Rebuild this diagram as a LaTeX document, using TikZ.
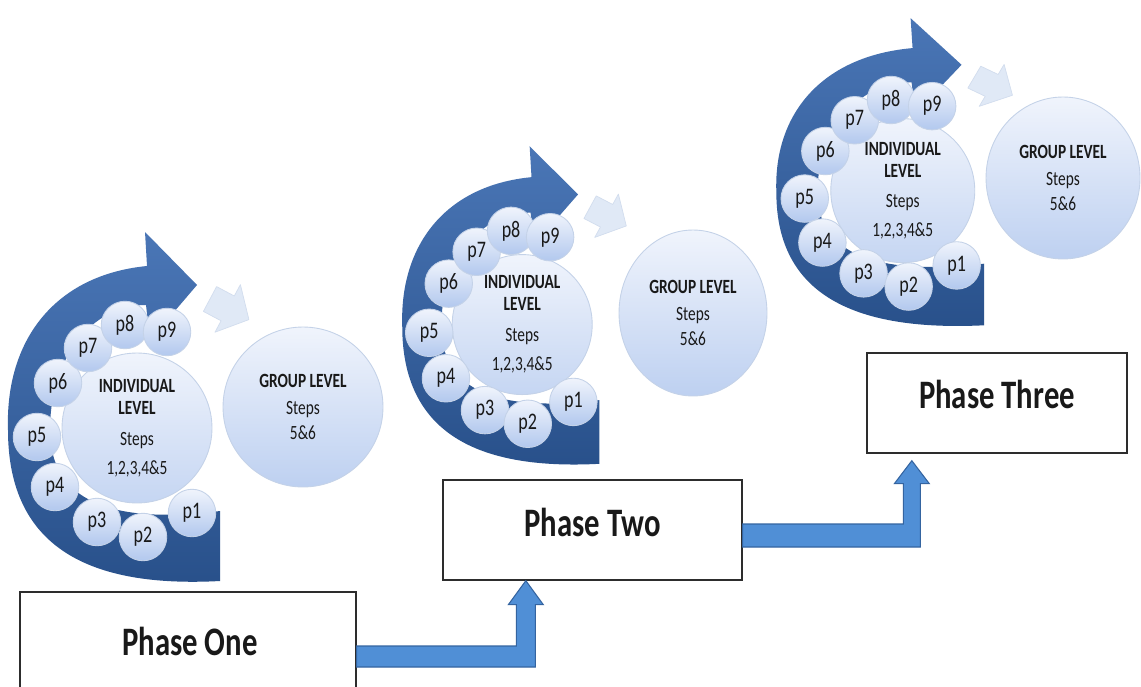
\documentclass[tikz,border=0pt]{standalone}
\usepackage{fontspec}
\setmainfont{Carlito}[FakeStretch=0.76]
\usetikzlibrary{shapes.geometric,calc}
\definecolor{bandTop}{RGB}{74,118,182}
\definecolor{bandBot}{RGB}{40,80,138}
\definecolor{circTop}{RGB}{240,244,252}
\definecolor{circBot}{RGB}{178,200,238}
\definecolor{circLine}{RGB}{196,210,232}
\definecolor{chevFill}{RGB}{224,233,246}
\definecolor{chevLine}{RGB}{210,221,238}
\definecolor{connFill}{RGB}{80,143,214}
\definecolor{connLine}{RGB}{52,100,160}
\definecolor{boxLine}{RGB}{45,45,45}
\definecolor{txt}{RGB}{25,25,25}
\tikzset{
  band/.style={top color=bandTop, bottom color=bandBot},
  chev/.style={fill=chevFill, draw=chevLine, line width=0.4pt, line join=round},
  smalltext/.style={text=txt, font=\fontsize{11.5}{12.5}\selectfont},
  core/.style={circle, draw=circLine, line width=0.5pt, top color=circTop, bottom color=circBot!75!white, inner sep=0pt, align=center, smalltext},
  pc/.style={circle, draw=circLine, line width=0.5pt, top color=circTop, bottom color=circBot, inner sep=0pt, minimum size=0.95cm, text=txt, font=\fontsize{13.5}{14}\selectfont},
  glevel/.style={ellipse, draw=circLine, line width=0.5pt, top color=circTop, bottom color=circBot!85!white, inner sep=0pt, align=center, smalltext},
  phase/.style={rectangle, draw=boxLine, line width=0.8pt, fill=white, inner sep=0pt},
  phtext/.style={anchor=base, text=txt, inner sep=0pt, font=\fontsize{23}{27}\selectfont\bfseries},
  conn/.style={fill=connFill, draw=connLine, line width=0.6pt, line join=miter},
}
% #1 prefix, #2 x shift, #3 y shift, #4 xscale, #5 yscale, #6 core diameter
\newcommand\cyclegroup[6]{%
\begin{scope}[shift={(#2,#3)}, xscale=#4, yscale=#5]
  \path[band] (220,581) .. controls (90,588) and (8,548) .. (8,430)
     .. controls (5,340) and (55,275) .. (147,266)
     -- (145,232) -- (197,285) -- (150,340) -- (146,305)
     .. controls (90,305) and (50,360) .. (50,430)
     .. controls (50,500) and (110,525) .. (220,511) -- cycle;
  \draw[chev] (216.6,286.6) -- (234.3,296) -- (240.4,284.6) -- (248.9,319.6)
     -- (215,332.2) -- (221.1,320.8) -- (203.4,311.4) -- cycle;
  \node[core, minimum size=#6] (#1core) at (137,428)
     {\textbf{INDIVIDUAL}\\\textbf{LEVEL}\\[5pt]Steps\\[4pt]1,2,3,4\&5};
  \node[pc] (#1p5) at (37,437) {p5};
  \node[pc] (#1p4) at (55,487) {p4};
  \node[pc] (#1p3) at (97,522) {p3};
  \node[pc] (#1p2) at (143,537) {p2};
  \node[pc] (#1p1) at (192,513) {p1};
  \node[pc] (#1p6) at (58,383) {p6};
  \node[pc] (#1p7) at (88,348) {p7};
  \node[pc] (#1p8) at (125,325) {p8};
  \node[pc] (#1p9) at (167,332) {p9};
\end{scope}}
\begin{document}
\begin{tikzpicture}[x=0.02cm, y=-0.02cm]
\useasboundingbox (0,0) rectangle (1141,686);
\clip (0,0) rectangle (1141,686);
\fill[white] (0,0) rectangle (1141,686);
% three cycles
\cyclegroup{a}{0}{0}{1}{1}{3cm}
\node[glevel, minimum width=3.2cm, minimum height=3.2cm] (agl) at (303,407)
  {\textbf{GROUP LEVEL}\\[3pt]Steps\\[2pt]5\&6};
\cyclegroup{b}{394.8}{-64.9}{0.93}{0.91}{2.8cm}
\node[glevel, minimum width=2.96cm, minimum height=3.32cm] (bgl) at (693,313)
  {\textbf{GROUP LEVEL}\\[3pt]Steps\\[2pt]5\&6};
\cyclegroup{c}{768.5}{-186}{0.98}{0.88}{2.88cm}
\node[glevel, minimum width=3.08cm, minimum height=3.24cm] (cgl) at (1063,178)
  {\textbf{GROUP LEVEL}\\[3pt]Steps\\[2pt]5\&6};
% phase boxes
\node[phase, minimum width=6.72cm, minimum height=2.16cm] (ph1) at (188,646) {};
\node[phase, minimum width=5.98cm, minimum height=2cm] (ph2) at (592.5,530) {};
\node[phase, minimum width=5.2cm, minimum height=2cm] (ph3) at (997,403) {};
% connectors
\coordinate (t1) at ($(ph2.south west)+(83.5,0)$);
\coordinate (t2) at ($(ph3.south west)+(45.5,7)$);
\draw[conn] (ph1.east) -- ($(t1 |- ph1.east)+(-9.5,0)$) -- ($(t1)+(-9.5,24)$)
  -- ($(t1)+(-17.5,24)$) -- (t1) -- ($(t1)+(17.5,24)$) -- ($(t1)+(9.5,24)$)
  -- ($(t1 |- ph1.east)+(9.5,21)$) -- ($(ph1.east)+(0,21)$) -- cycle;
\draw[conn] ($(ph2.east)+(0,-6)$) -- ($(t2 |- ph2.east)+(-8.5,-6)$) -- ($(t2)+(-8.5,23)$)
  -- ($(t2)+(-17.5,23)$) -- (t2) -- ($(t2)+(17.5,23)$) -- ($(t2)+(8.5,23)$)
  -- ($(t2 |- ph2.east)+(8.5,17)$) -- ($(ph2.east)+(0,17)$) -- cycle;
% phase labels
\node[phtext] (ph1t) at ($(ph1.center)+(2,9)$) {Phase One};
\node[phtext] (ph2t) at ($(ph2.center)+(0,6)$) {Phase Two};
\node[phtext] (ph3t) at ($(ph3.center)+(0,5)$) {Phase Three};
\end{tikzpicture}
\end{document}
